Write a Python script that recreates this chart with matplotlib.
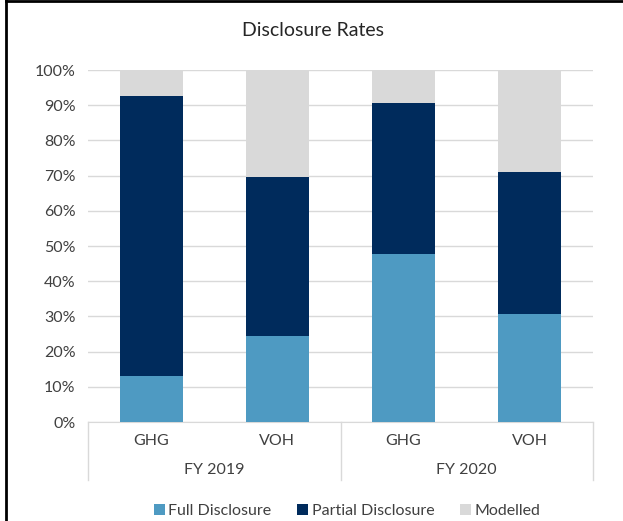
import numpy as np
import matplotlib.pyplot as plt
from matplotlib.transforms import blended_transform_factory
from matplotlib.lines import Line2D

plt.rcParams['font.family'] = ['Lato', 'DejaVu Sans']

metrics = ['GHG', 'VOH', 'GHG', 'VOH']
years = ['FY 2019', 'FY 2020']
full = [13.2, 24.3, 47.8, 30.7]
partial = [79.3, 45.3, 42.8, 40.3]
modelled = [100 - f - p for f, p in zip(full, partial)]

c_full = '#4e9ac2'
c_partial = '#002b5c'
c_model = '#d9d9d9'
text_c = '#404040'

fig = plt.figure(figsize=(6.23, 5.21), dpi=100)
ax = fig.add_axes([88/623, 99/521, 505/623, 352/521])

x = np.arange(len(metrics))
ax.bar(x, full, 0.5, color=c_full, label='Full Disclosure', zorder=3)
ax.bar(x, partial, 0.5, bottom=full, color=c_partial, label='Partial Disclosure', zorder=3)
ax.bar(x, modelled, 0.5, bottom=np.add(full, partial), color=c_model, label='Modelled', zorder=3)

ax.set_xlim(-0.5, len(metrics) - 0.5)
ax.set_ylim(0, 100)
ax.set_yticks(range(0, 101, 10))
ax.set_yticklabels([f'{v}%' for v in range(0, 101, 10)], fontsize=11.5, color=text_c)
ax.yaxis.grid(True, color='#d9d9d9', linewidth=1, zorder=0)
ax.tick_params(axis='y', length=0, pad=9)
ax.set_xticks([])
for s in ['top', 'right', 'left']:
    ax.spines[s].set_visible(False)
ax.spines['bottom'].set_color('#d9d9d9')

# two-level category axis
tr = blended_transform_factory(ax.transData, ax.transAxes)
for xb in [-0.5, 1.5, 3.5]:
    ax.plot([xb, xb], [0, -0.165], transform=tr, color='#d9d9d9', lw=1, clip_on=False)
for i, m in enumerate(metrics):
    ax.text(i, -0.054, m, transform=tr, ha='center', va='center', fontsize=11.5, color=text_c)
for j, y in enumerate(years):
    ax.text(2*j + 0.5, -0.136, y, transform=tr, ha='center', va='center', fontsize=11.5, color=text_c)

fig.text(313/623, 1 - 31/521, 'Disclosure Rates', ha='center', va='center', fontsize=14, color='#262626')

handles, labels = ax.get_legend_handles_labels()
fig.legend(handles, labels, loc='center', bbox_to_anchor=(347/623, 10/521), ncol=3, frameon=False,
           fontsize=11.5, handlelength=0.7, handleheight=0.7, handletextpad=0.2, columnspacing=1.6,
           labelcolor=text_c)

# outer frame (top and left edges visible)
fig.add_artist(Line2D([6/623, 6/623], [0, 1], transform=fig.transFigure, color='black', lw=2))
fig.add_artist(Line2D([6/623, 1], [1 - 1/521, 1 - 1/521], transform=fig.transFigure, color='black', lw=2))

fig.savefig('out.png', dpi=100)
